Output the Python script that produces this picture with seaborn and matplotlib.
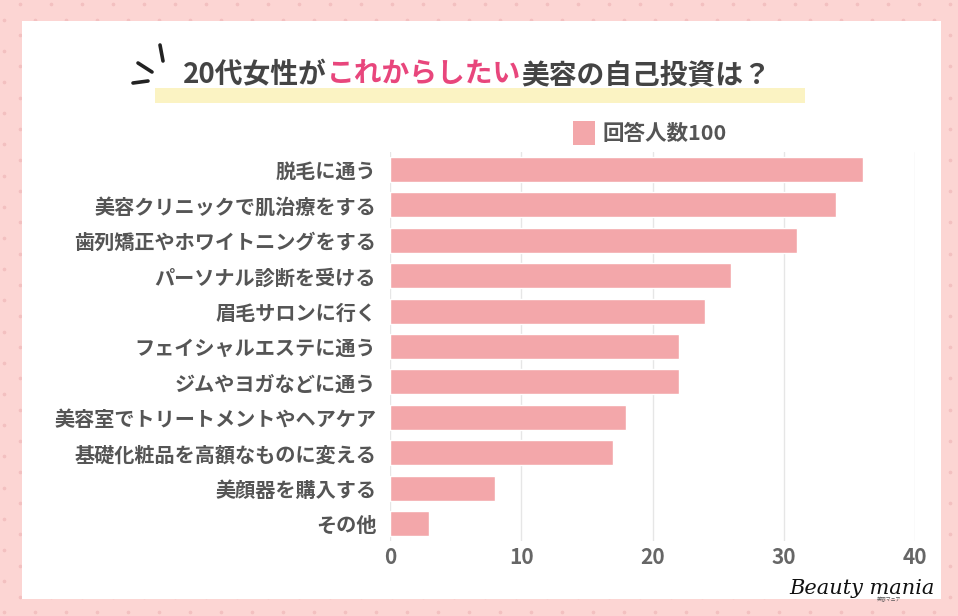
import numpy as np
import pandas as pd
import matplotlib
matplotlib.use("Agg")
import matplotlib.pyplot as plt
import seaborn as sns
from matplotlib.patches import Rectangle
from matplotlib.lines import Line2D

# ---- data ----
categories = [
    "脱毛に通う",
    "美容クリニックで肌治療をする",
    "歯列矯正やホワイトニングをする",
    "パーソナル診断を受ける",
    "眉毛サロンに行く",
    "フェイシャルエステに通う",
    "ジムやヨガなどに通う",
    "美容室でトリートメントやヘアケア",
    "基礎化粧品を高額なものに変える",
    "美顔器を購入する",
    "その他",
]
values = [36, 34, 31, 26, 24, 22, 22, 18, 17, 8, 3]
xticks = [0, 10, 20, 30, 40]
legend_label = "回答人数100"
title_parts = ["20代女性が", "これからしたい", "美容の自己投資は？"]
logo_text = "Beauty mania"
logo_sub = "美容マニア"

df = pd.DataFrame({"item": categories, "count": values})

sns.set_theme(style="white")
plt.rcParams['font.family'] = ['Noto Sans CJK JP', 'DejaVu Sans']

W, H = 958, 616
fig = plt.figure(figsize=(W / 100, H / 100), dpi=100)
fig.patch.set_facecolor('#fcd5d3')

# background layer in pixel coordinates
bg = fig.add_axes([0, 0, 1, 1])
bg.set_xlim(0, W)
bg.set_ylim(H, 0)
bg.axis('off')
dx, dy = [], []
for k, yy in enumerate(np.arange(4, H + 16, 15.6)):
    x0 = 20.5 if k % 2 == 0 else 4.5
    for xx in np.arange(x0, W + 31, 31):
        dx.append(xx)
        dy.append(yy)
bg.scatter(dx, dy, s=7, color='#f3c0c0', linewidths=0, zorder=1)
bg.add_patch(Rectangle((22, 21), 919, 578, facecolor='white', edgecolor='none', zorder=2))

# yellow highlight band
bg.add_patch(Rectangle((155, 88), 650, 15, facecolor='#fbf3c3', edgecolor='none', zorder=3))
# sparkle marks
for (x1, y1, x2, y2) in [(160, 45, 163, 61), (138, 63, 152, 72), (133, 83, 148, 81)]:
    bg.add_line(Line2D([x1, x2], [y1, y2], color='#222222', lw=2.6,
                       solid_capstyle='round', zorder=4))

# legend
bg.add_patch(Rectangle((573, 121), 22, 24, facecolor='#f3a7aa', edgecolor='none', zorder=4))
bg.text(603, 133, legend_label, fontsize=15.5, fontweight='bold', color='#555555',
        ha='left', va='center', zorder=5)

# logo
bg.text(935, 589, logo_text, fontsize=15, family='DejaVu Serif', style='italic',
        color='#111111', ha='right', va='center', zorder=5)
bg.text(889, 600, logo_sub, fontsize=3.5, color='#555555', ha='center', va='center', zorder=5)

# ---- main axes ----
left = 390 / W
right = 915 / W
top = 1 - 151.8 / H
bottom = 1 - 541.2 / H
ax = fig.add_axes([left, bottom, right - left, top - bottom])
ax.set_facecolor('none')
sns.barplot(data=df, x="count", y="item", orient='h', color='#f3a7aa',
            saturation=1, width=0.71, ax=ax, zorder=3)
ax.set_xlim(0, 40)
ax.set_ylim(10.5, -0.5)
ax.set_xticks(xticks)
ax.set_xticklabels([str(t) for t in xticks])
ax.set_xlabel("")
ax.set_ylabel("")
for s in ax.spines.values():
    s.set_visible(False)
ax.grid(axis='x', color='#e6e6e6', lw=1, zorder=0)
ax.grid(axis='y', visible=False)
ax.set_axisbelow(True)
ax.tick_params(axis='x', length=0, pad=4, labelsize=15, labelcolor='#666666')
ax.tick_params(axis='y', length=0, pad=10, labelsize=14.5, labelcolor='#555555')
for lab in ax.get_xticklabels() + ax.get_yticklabels():
    lab.set_fontweight('bold')

# ---- title in three colours ----
colors = ['#444444', '#e8467c', '#444444']
renderer = fig.canvas.get_renderer()
texts = []
widths = []
for part, c in zip(title_parts, colors):
    t = fig.text(0, 0, part, fontsize=20, fontweight='bold', color=c,
                 ha='left', va='center')
    bb = t.get_window_extent(renderer=renderer)
    texts.append(t)
    widths.append(bb.width)
total = sum(widths)
xstart = 477 - total / 2
ycen = 1 - 75 / H
for t, w in zip(texts, widths):
    t.set_position((xstart / W, ycen))
    xstart += w

fig.savefig("out.png", dpi=100, facecolor=fig.get_facecolor())
